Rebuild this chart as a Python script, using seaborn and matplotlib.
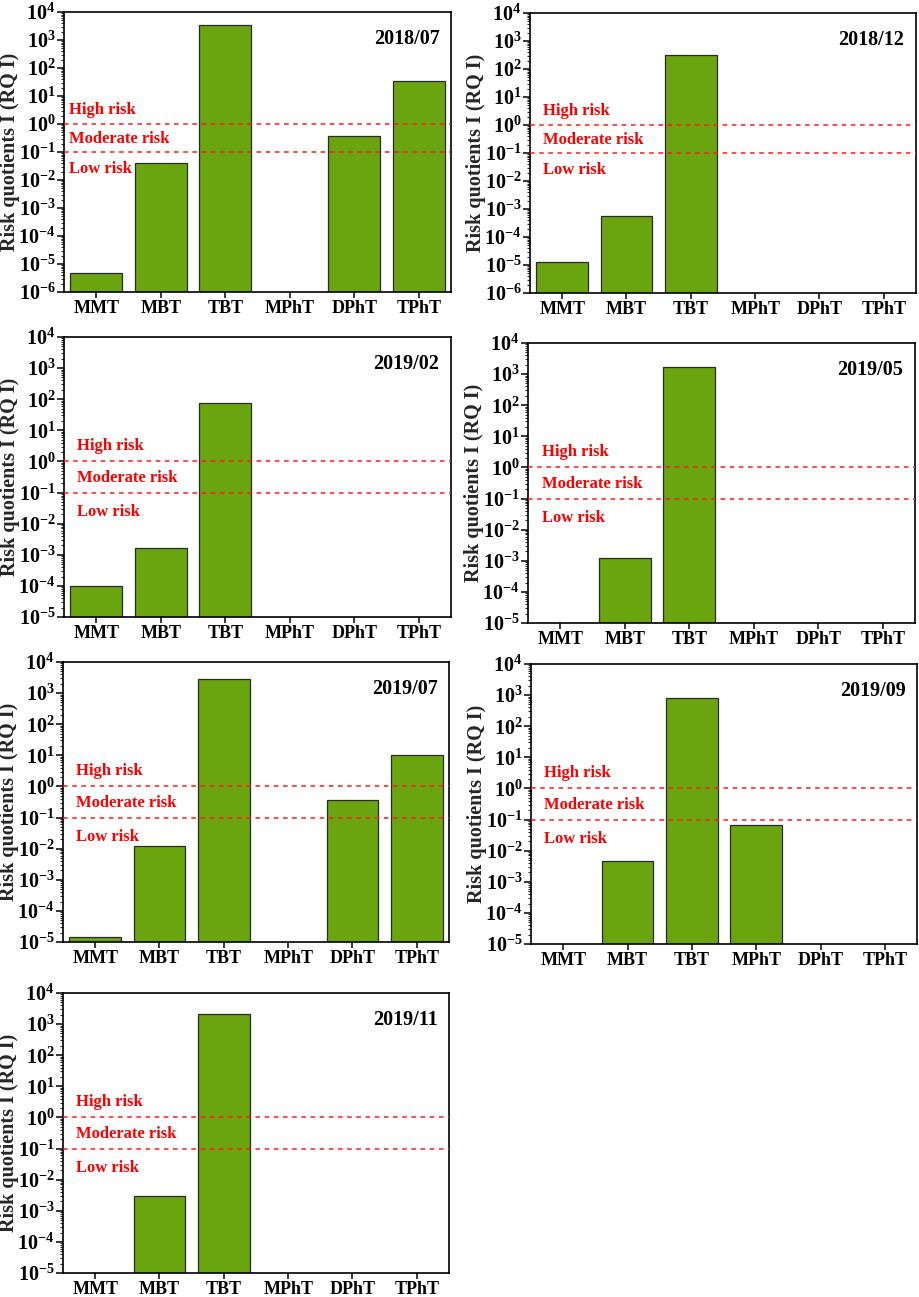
import numpy as np
import pandas as pd
import matplotlib
matplotlib.use("Agg")
import matplotlib.pyplot as plt
from matplotlib.ticker import LogLocator, FuncFormatter, NullFormatter
import seaborn as sns

# ---------------- data ----------------
compounds = ["MMT", "MBT", "TBT", "MPhT", "DPhT", "TPhT"]
dates = ["2018/07", "2018/12", "2019/02", "2019/05", "2019/07", "2019/09", "2019/11"]
nan = np.nan
rq_2018_07 = [4.6e-6, 0.040, 3540, nan, 0.37, 34]
rq_2018_12 = [1.3e-5, 5.5e-4, 327, nan, nan, nan]
rq_2019_02 = [1.0e-4, 1.7e-3, 78, nan, nan, nan]
rq_2019_05 = [nan, 1.23e-3, 1750, nan, nan, nan]
rq_2019_07 = [1.5e-5, 0.0119, 2930, nan, 0.38, 10.0]
rq_2019_09 = [nan, 4.7e-3, 790, 0.066, nan, nan]
rq_2019_11 = [nan, 2.9e-3, 2120, nan, nan, nan]
series = [rq_2018_07, rq_2018_12, rq_2019_02, rq_2019_05, rq_2019_07, rq_2019_09, rq_2019_11]
y_min_exp = [-6, -6, -5, -5, -5, -5, -5]
y_max_exp = 4
thresholds = [1.0, 0.1]
risk_labels = ["High risk", "Moderate risk", "Low risk"]
risk_label_y = [3.2, 0.3, 0.024]

# ---------------- style ----------------
sns.set_theme(style="white")
plt.rcParams["font.family"] = ["Liberation Serif", "DejaVu Serif"]
plt.rcParams["font.weight"] = "bold"
plt.rcParams["mathtext.fontset"] = "custom"
plt.rcParams["mathtext.rm"] = "Liberation Serif:bold"
plt.rcParams["mathtext.bf"] = "Liberation Serif:bold"
plt.rcParams["mathtext.it"] = "Liberation Serif:bold"

W, H = 920, 1297
fig = plt.figure(figsize=(W / 100, H / 100), dpi=100)

# axes pixel boxes (x0, x1, ytop, ybottom)
boxes = [
    (64, 451, 12, 292),
    (530, 916, 13, 293),
    (64, 451, 337, 617),
    (528, 915, 343, 623),
    (63, 449, 662, 942),
    (531, 917, 664, 944),
    (63, 449, 993, 1273),
]
text_x = [0.014, 0.034, 0.034, 0.036, 0.034, 0.034, 0.034]

bar_color = "#6aa40f"

def fmt(v, pos):
    e = int(round(np.log10(v)))
    return r"$\mathbf{10^{%d}}$" % e

for i, (vals, date) in enumerate(zip(series, dates)):
    x0, x1, yt, yb = boxes[i]
    ax = fig.add_axes([x0 / W, 1 - yb / H, (x1 - x0) / W, (yb - yt) / H])
    ax.set_yscale("log")
    df = pd.DataFrame({"compound": compounds, "rq": vals})
    sns.barplot(data=df, x="compound", y="rq", order=compounds, color=bar_color,
                saturation=1, width=0.8, errorbar=None, edgecolor="#2a2a2a",
                linewidth=0.9, ax=ax)
    ax.set_ylim(10.0 ** y_min_exp[i], 10.0 ** y_max_exp)
    ax.set_xlim(-0.5, len(compounds) - 0.5)
    for t in thresholds:
        ax.axhline(t, color="#ff1a1a", lw=1.1, ls=(0, (3, 3)), zorder=3)
    for lab, yv in zip(risk_labels, risk_label_y):
        ax.text(text_x[i], yv, lab, transform=ax.get_yaxis_transform(),
                color="#ff0000", fontsize=12, fontweight="bold",
                ha="left", va="center", zorder=4)
    ax.text(0.97, 0.905, date, transform=ax.transAxes, ha="right", va="center",
            fontsize=14.5, fontweight="bold", color="black")
    ax.yaxis.set_major_locator(LogLocator(base=10, numticks=20))
    ax.yaxis.set_minor_locator(LogLocator(base=10, subs=np.arange(2, 10), numticks=20))
    ax.yaxis.set_major_formatter(FuncFormatter(fmt))
    ax.yaxis.set_minor_formatter(NullFormatter())
    ax.tick_params(axis="y", which="major", direction="out", length=5, width=1.1,
                   left=True, labelsize=14.5, pad=1, colors="black")
    ax.tick_params(axis="y", which="minor", direction="out", length=2.5, width=0.8, left=True)
    ax.tick_params(axis="x", which="major", direction="out", length=4, width=1.1,
                   bottom=True, labelsize=13, pad=1.5, colors="black")
    for lab in ax.get_xticklabels():
        lab.set_fontweight("bold")
    for sp in ax.spines.values():
        sp.set_color("black")
        sp.set_linewidth(1.2)
    ax.set_xlabel("")
    ax.set_ylabel("Risk quotients I (RQ I)", fontsize=14.5, fontweight="bold")
    ax.yaxis.set_label_coords(-0.113, 0.5)

fig.savefig("out.png", dpi=100, facecolor="white")
